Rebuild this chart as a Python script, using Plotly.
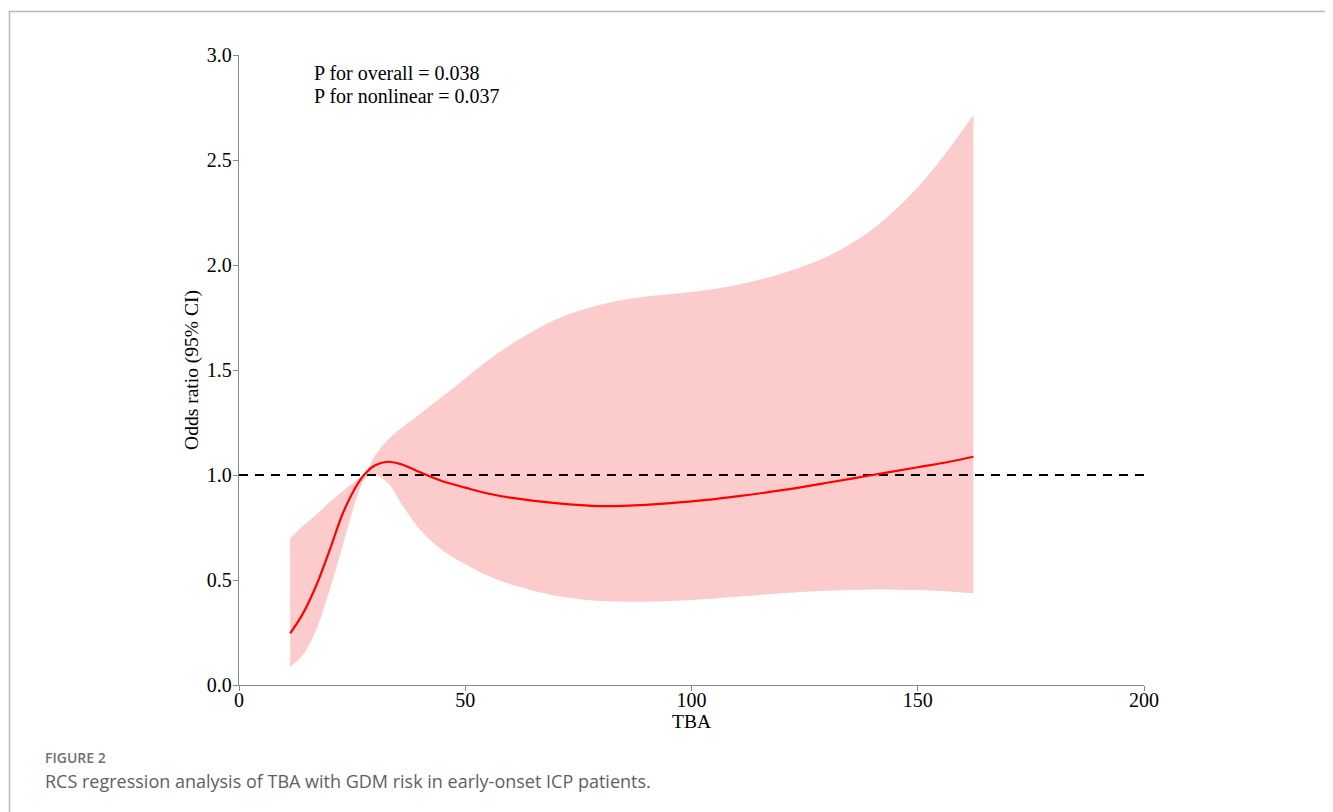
import plotly.graph_objects as go

# ---- data ----
tba = [11.3, 14, 17, 20, 23, 26, 28, 30, 33, 36, 40, 45, 50, 55, 60, 70, 80, 90,
       100, 110, 120, 130, 140, 150, 157, 162.3]
odds_ratio = [0.246, 0.335, 0.47, 0.64, 0.82, 0.95, 1.01, 1.045, 1.063, 1.05, 1.013,
              0.97, 0.94, 0.912, 0.892, 0.866, 0.852, 0.858, 0.874, 0.898, 0.928,
              0.963, 1.0, 1.037, 1.063, 1.087]
ci_upper = [0.70, 0.755, 0.81, 0.87, 0.925, 0.975, 1.01, 1.09, 1.17, 1.225, 1.29,
            1.375, 1.46, 1.545, 1.62, 1.74, 1.812, 1.85, 1.872, 1.905, 1.96, 2.04,
            2.17, 2.37, 2.556, 2.714]
ci_lower = [0.087, 0.14, 0.26, 0.45, 0.67, 0.89, 0.985, 1.0, 0.96, 0.86, 0.74,
            0.64, 0.575, 0.52, 0.48, 0.425, 0.40, 0.397, 0.405, 0.42, 0.437,
            0.449, 0.455, 0.452, 0.445, 0.437]
ref_x = [0, 200]
ref_y = [1, 1]
x_ticks = [0, 50, 100, 150, 200]
y_ticks = [0.0, 0.5, 1.0, 1.5, 2.0, 2.5, 3.0]
p_text = ["P for overall = 0.038", "P for nonlinear = 0.037"]

# page is offset by the default 8px body margin
OFF = 8
PAGE_W, PAGE_H = 1333, 812
W, H = PAGE_W - OFF, PAGE_H - OFF
L, R, T, B = 239, 1144, 55, 685   # plot area in page pixels


def px(xp):
    return (xp - L) / (R - L)


def py(yp):
    return (B - yp) / (B - T)


serif = "Liberation Serif, Times New Roman, serif"
sans = "Open Sans, sans-serif"

fig = go.Figure()
fig.add_trace(go.Scatter(x=tba, y=ci_upper, mode="lines", line=dict(width=0, shape="spline", smoothing=1.0),
                         hoverinfo="skip", showlegend=False))
fig.add_trace(go.Scatter(x=tba, y=ci_lower, mode="lines", line=dict(width=0, shape="spline", smoothing=1.0),
                         fill="tonexty", fillcolor="rgba(252,204,204,1)", hoverinfo="skip", showlegend=False))
fig.add_trace(go.Scatter(x=ref_x, y=ref_y, mode="lines",
                         line=dict(color="black", width=2, dash="9px,7px"), showlegend=False))
fig.add_trace(go.Scatter(x=tba, y=odds_ratio, mode="lines",
                         line=dict(color="red", width=2.2, shape="spline", smoothing=1.0), showlegend=False))

axis_common = dict(showgrid=False, zeroline=False, showline=True, linecolor="#8a8a8a", linewidth=1.3,
                   ticks="outside", ticklen=5, tickwidth=1.2, tickcolor="#8a8a8a",
                   tickfont=dict(family=serif, size=20, color="black"))

fig.update_layout(
    width=W, height=H,
    margin=dict(l=L - OFF, r=PAGE_W - R, t=T - OFF, b=PAGE_H - B, pad=0),
    paper_bgcolor="white", plot_bgcolor="white",
    xaxis=dict(range=[0, 200], tickvals=x_ticks, ticktext=[str(v) for v in x_ticks],
               ticklabelstandoff=-8,
               title=dict(text="TBA", font=dict(family=serif, size=19.5, color="black"), standoff=3),
               **axis_common),
    yaxis=dict(range=[0, 3.0], tickvals=y_ticks, ticktext=[f"{v:.1f}" for v in y_ticks],
               ticklabelstandoff=-3,
               title=dict(text="Odds ratio (95% CI)", font=dict(family=serif, size=19.5, color="black"), standoff=3),
               **axis_common),
    showlegend=False,
)

fig.add_annotation(x=px(312), y=py(73), xref="paper", yref="paper", xanchor="left", yanchor="middle",
                   text=p_text[0], showarrow=False, font=dict(family=serif, size=20, color="black"))
fig.add_annotation(x=px(312), y=py(96), xref="paper", yref="paper", xanchor="left", yanchor="middle",
                   text=p_text[1], showarrow=False, font=dict(family=serif, size=20, color="black"))

# caption
fig.add_annotation(x=px(43), y=py(757), xref="paper", yref="paper", xanchor="left", yanchor="middle",
                   text="FIGURE 2", showarrow=False,
                   font=dict(family=sans, size=14, color="#707070", weight=600))
fig.add_annotation(x=px(43), y=py(781), xref="paper", yref="paper", xanchor="left", yanchor="middle",
                   text="RCS regression analysis of TBA with GDM risk in early-onset ICP patients.",
                   showarrow=False, font=dict(family=sans, size=18, color="#5f5f5f"))

# page frame
fig.add_shape(type="rect", xref="paper", yref="paper", x0=px(9.5), x1=px(1331.5), y0=py(830), y1=py(11.5),
              line=dict(color="#b8b8b8", width=1.5), fillcolor="rgba(0,0,0,0)", layer="below")

fig.write_html("out.html")
